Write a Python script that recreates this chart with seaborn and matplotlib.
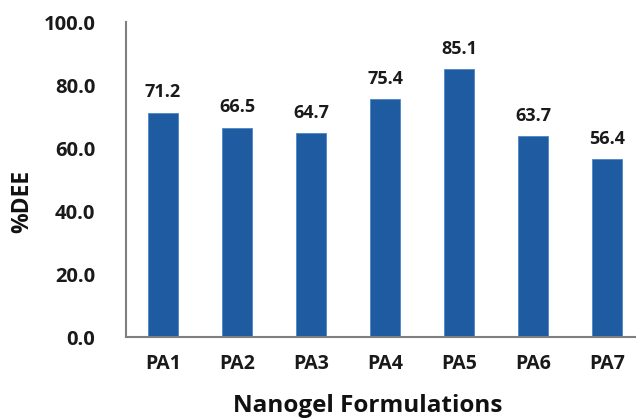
import matplotlib
matplotlib.use("Agg")
import matplotlib.pyplot as plt
import seaborn as sns
import pandas as pd

formulations = ["PA1", "PA2", "PA3", "PA4", "PA5", "PA6", "PA7"]
dee_values = [71.2, 66.5, 64.7, 75.4, 85.1, 63.7, 56.4]
y_ticks = [0.0, 20.0, 40.0, 60.0, 80.0, 100.0]

sns.set_style("white")
plt.rcParams["font.family"] = ["Open Sans", "DejaVu Sans"]

df = pd.DataFrame({"Formulation": formulations, "DEE": dee_values})

fig = plt.figure(figsize=(6.36, 4.19), dpi=100)
ax = fig.add_axes([126 / 636, 1 - 337 / 419, (636 - 126) / 636, (337 - 22) / 419])

sns.barplot(data=df, x="Formulation", y="DEE", color="#1F5BA0",
            width=0.41, saturation=1, edgecolor="#4A86C8", linewidth=0.6, ax=ax)

for i, v in enumerate(dee_values):
    ax.text(i, v + 3.6, f"{v:.1f}", ha="center", va="bottom",
            fontsize=13, fontweight="bold", color="#1A1A1A")

ax.set_ylim(0, 100)
ax.set_xlim(-0.5, 6.39)
ax.set_yticks(y_ticks)
ax.set_yticklabels([f"{t:.1f}" for t in y_ticks], fontsize=14.5, fontweight="bold", color="#1A1A1A")
ax.set_xticks(range(len(formulations)))
ax.set_xticklabels(formulations, fontsize=14, fontweight="bold", color="#1A1A1A")
ax.tick_params(axis="y", length=0, pad=22)
ax.tick_params(axis="x", length=0, pad=12)

ax.set_ylabel("%DEE", fontsize=16.5, fontweight="bold", color="#111111")
ax.set_xlabel("Nanogel Formulations", fontsize=17.5, fontweight="bold", color="#111111")
ax.yaxis.label.set_va("center")
ax.xaxis.label.set_va("center")
ax.yaxis.set_label_coords(-0.204, 0.429)
ax.xaxis.set_label_coords(0.4745, -0.218)

for s in ["top", "right"]:
    ax.spines[s].set_visible(False)
for s in ["left", "bottom"]:
    ax.spines[s].set_color("#7F7F7F")
    ax.spines[s].set_linewidth(1.5)

fig.savefig("out.png", dpi=100)
